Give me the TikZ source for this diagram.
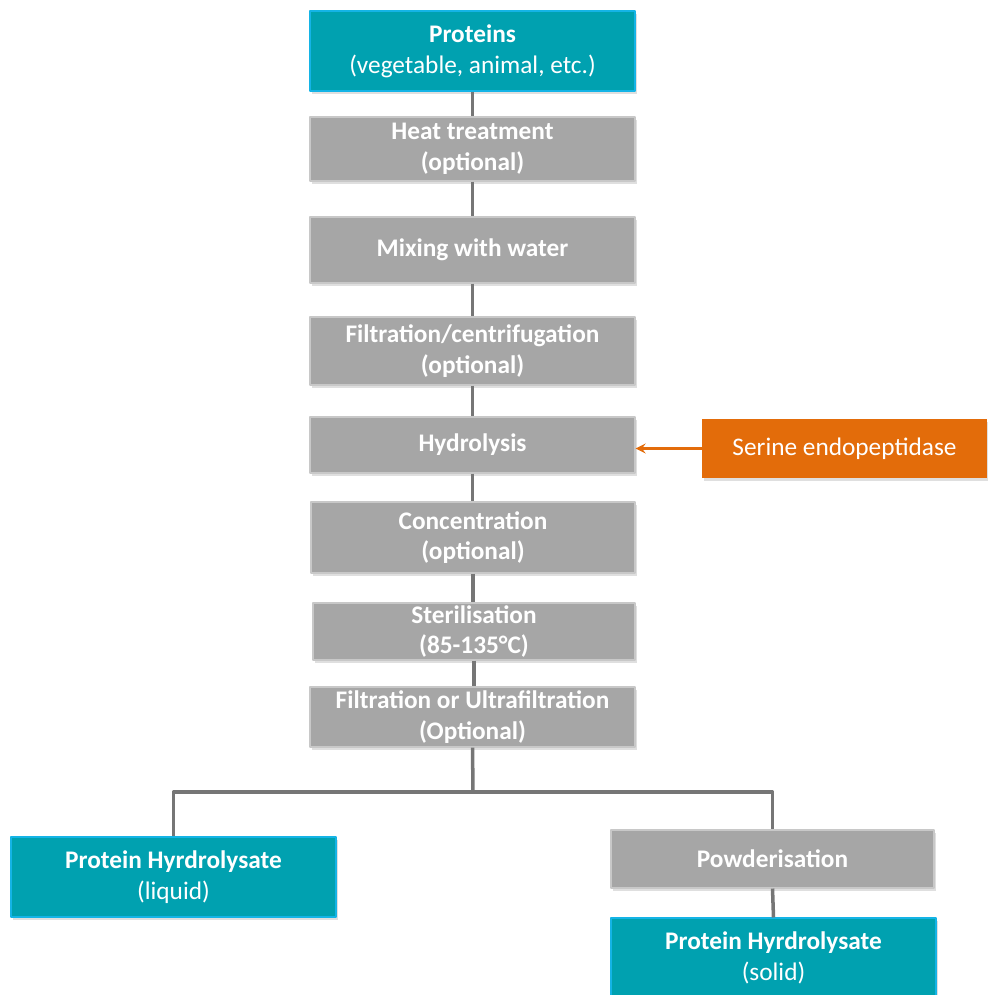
\documentclass[tikz,border=0pt]{standalone}
\usepackage{fontspec}
\setmainfont{Carlito}
\usetikzlibrary{shadows}
\definecolor{tealbox}{RGB}{0,161,176}
\definecolor{tealedge}{RGB}{20,180,230}
\definecolor{greybox}{RGB}{166,166,166}
\definecolor{greyedge}{RGB}{200,200,200}
\definecolor{linkgrey}{RGB}{118,118,118}
\definecolor{orangebox}{RGB}{227,108,10}
\tikzset{
  box/.style={rectangle, text=white, align=center, inner sep=0pt,
    font=\fontsize{14.4}{17.5}\selectfont,
    drop shadow={opacity=0.25, shadow xshift=0.04, shadow yshift=-0.06}},
  sourcebox/.style={box, fill=tealbox, draw=tealedge, line width=0.6pt},
  stepbox/.style={box, fill=greybox, draw=greyedge, line width=0.6pt, font=\fontsize{14.4}{17.5}\selectfont\bfseries},
  enzbox/.style={box, fill=orangebox},
  link/.style={draw=linkgrey, line width=2pt},
}
\begin{document}
\begin{tikzpicture}[>=stealth, line join=round]
\useasboundingbox (0,0) rectangle (19.74,-19.9);
\def\w{6.5}
% main line of process steps
\node[sourcebox, minimum width=\w cm, minimum height=1.6cm] (prot) at (9.45,-1.02) {\textbf{Proteins}\\(vegetable, animal, etc.)};
\node[stepbox, minimum width=\w cm, minimum height=1.28cm] (heat) at (9.45,-2.98) {Heat treatment\\(optional)};
\node[stepbox, minimum width=\w cm, minimum height=1.32cm] (mix) at (9.45,-5.0) {Mixing with water};
\node[stepbox, minimum width=\w cm, minimum height=1.36cm] (filt) at (9.45,-7.02) {Filtration/centrifugation\\(optional)};
\node[stepbox, minimum width=\w cm, minimum height=1.12cm] (hydro) at (9.45,-8.9) {Hydrolysis};
\node[stepbox, minimum width=6.48cm, minimum height=1.42cm] (conc) at (9.46,-10.75) {Concentration\\(optional)};
\node[stepbox, minimum width=6.44cm, minimum height=1.14cm] (steril) at (9.48,-12.63) {Sterilisation\\(85-135°C)};
\node[stepbox, minimum width=\w cm, minimum height=1.2cm] (filtuf) at (9.45,-14.34) {Filtration or Ultrafiltration\\(Optional)};
% enzyme
\node[enzbox, minimum width=5.7cm, minimum height=1.18cm] (enz) at (16.89,-8.97) {Serine endopeptidase};
% outputs
\node[sourcebox, minimum width=\w cm, minimum height=1.6cm] (liquid) at (3.47,-17.54) {\textbf{Protein Hyrdrolysate}\\(liquid)};
\node[stepbox, minimum width=6.46cm, minimum height=1.16cm] (powder) at (15.45,-17.18) {Powderisation};
\node[sourcebox, minimum width=\w cm, minimum height=1.6cm] (solid) at (15.47,-19.16) {\textbf{Protein Hyrdrolysate}\\(solid)};
\coordinate (split) at (9.46,-15.84);

\foreach \a/\b in {prot/heat, heat/mix, mix/filt, filt/hydro, hydro/conc, conc/steril, steril/filtuf}
  \draw[link] (\a.south) -- (\a.south |- \b.north);
\draw[link] (filtuf.south) -- (split);
\draw[link] (liquid.north) |- (split) -| (powder.north);
\draw[link] (powder.south) -- (solid.north);
\draw[->, draw=orangebox, line width=1.5pt] (enz.west) -- (enz.west -| hydro.east);
\end{tikzpicture}
\end{document}
